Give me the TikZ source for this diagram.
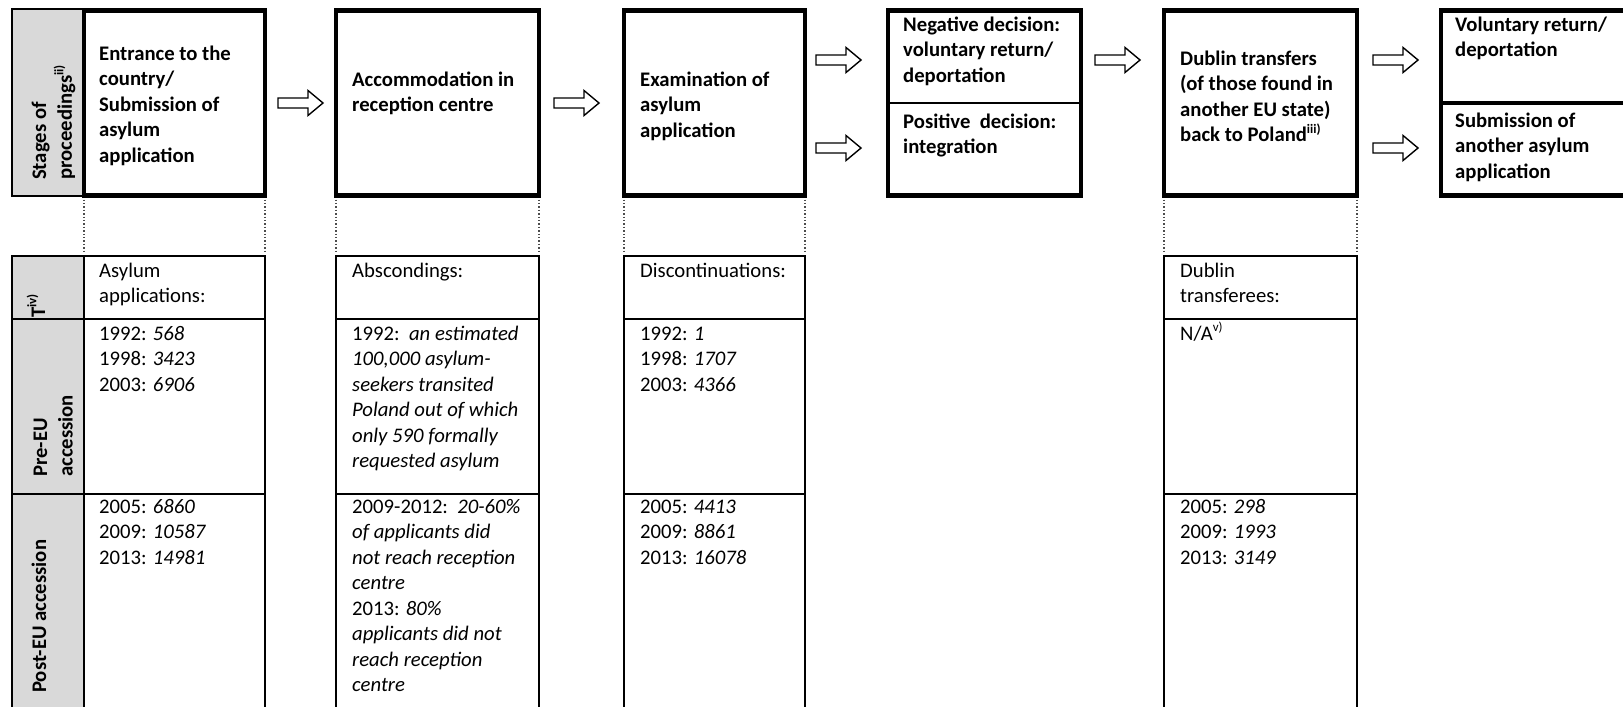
\documentclass[tikz,border=0pt]{standalone}
\usepackage{fontspec}
\setmainfont{Carlito}
\usetikzlibrary{calc}
\newcommand\supx[1]{\raisebox{0.42em}{\fontsize{13}{13}\selectfont #1}}
\newcommand\tl[1]{\begin{tabular}[t]{@{}l@{}}#1\end{tabular}}
\begin{document}
\begin{tikzpicture}[x=1pt,y=-1pt,
  box/.style={draw, line width=4.5pt, outer sep=0pt, inner sep=0pt, anchor=north west, minimum height=185pt},
  hdr/.style={font=\fontsize{20.7}{25.5}\selectfont\bfseries, anchor=base west, inner sep=0pt},
  cell/.style={font=\fontsize{20.7}{25.5}\selectfont, anchor=base west, inner sep=0pt},
  side/.style={hdr, rotate=90},
  tline/.style={line width=2pt},
  dotline/.style={black!70, line width=1.4pt, dotted},
  greycell/.style={fill=black!15},
  barrow/.pic={\draw[line width=1.4pt, fill=white, line join=miter] (0,-5) -- (30,-5) -- (30,-12.5) -- (45,0) -- (30,12.5) -- (30,5) -- (0,5) -- cycle;}
]
\useasboundingbox (0,0) rectangle (1623,707);
\begin{scope}
\clip (0,0) rectangle (1623,707);

% ---------- upper row: stages ----------
\draw[greycell, line width=1.2pt] (12,9) rectangle (84,196);
\node[box, minimum width=181pt] (b1) at (84,10.5) {};
\node[box, minimum width=203pt] (b2) at (336,10.5) {};
\node[box, minimum width=181pt] (b3) at (624,10.5) {};
\node[box, minimum width=193pt] (b4) at (888,10.5) {};
\node[box, minimum width=193pt] (b5) at (1164,10.5) {};
\node[box, minimum width=260pt] (b6) at (1441,10.5) {};
\draw[line width=2pt] (b4.west) -- (b4.east);
\draw[line width=4.5pt] (b6.west) -- (b6.east);

\node[side] (sp) at (46,180) {\tl{Stages of\\proceedings\supx{ii)}}};

\node[hdr] (t1) at (99,60) {\tl{Entrance to the\\country/\\Submission of\\asylum\\application}};
\node[hdr] (t2) at (352,86) {\tl{Accommodation in\\reception centre}};
\node[hdr] (t3) at (640,86) {\tl{Examination of\\asylum\\application}};
\node[hdr] (t4a) at (903,31) {\tl{Negative decision:\\voluntary return/\\deportation}};
\node[hdr] (t4b) at (903,128) {\tl{Positive\ \ decision:\\integration}};
\node[hdr] (t5) at (1180,65) {\tl{Dublin transfers\\(of those found in\\another EU state)\\back to Poland\supx{iii)}}};
\node[hdr] (t6a) at (1455,31) {\tl{Voluntary return/\\deportation}};
\node[hdr] (t6b) at (1455,127) {\tl{Submission of\\another asylum\\application}};

% ---------- block arrows ----------
\pic at ($(b1.east)+(13,0)$) {barrow};
\pic at ($(b2.east)+(15,0)$) {barrow};
\pic at ($(b3.east)+(11,-43)$) {barrow};
\pic at ($(b3.east)+(11,45)$) {barrow};
\pic at ($(b4.east)+(14,-43)$) {barrow};
\pic at ($(b5.east)+(16,-43)$) {barrow};
\pic at ($(b5.east)+(16,45)$) {barrow};

% ---------- dotted guides ----------
\foreach \b in {b1,b2,b3,b5}{
  \draw[dotline] ($(\b.south west)+(0,4)$) -- ++(0,53);
  \draw[dotline] ($(\b.south east)+(0,4)$) -- ++(0,53);
}

% ---------- lower table ----------
\fill[greycell] (12,256) rectangle (84,720);
\draw[tline] (12,720) -- (12,256) -- (265,256) -- (265,720);
\draw[tline] (84,256) -- (84,720);
\draw[tline] (12,319) -- (265,319);
\draw[tline] (12,494) -- (265,494);
\foreach \l/\r in {336/539,624/805,1164/1357}{
  \draw[tline] (\l,720) -- (\l,256) -- (\r,256) -- (\r,720);
  \draw[tline] (\l,319) -- (\r,319);
  \draw[tline] (\l,494) -- (\r,494);
}

\node[side] (sT) at (45,318) {T\supx{iv)}};
\node[side] (sPre) at (47,477) {\tl{Pre-EU\\accession}};
\node[side] (sPost) at (46,693) {Post-EU accession};

\node[cell] (c1h) at (99,277) {\tl{Asylum\\applications:}};
\node[cell] (c1a) at (99,340) {\tl{1992: \textit{568}\\1998: \textit{3423}\\2003: \textit{6906}}};
\node[cell] (c1b) at (99,513) {\tl{2005: \textit{6860}\\2009: \textit{10587}\\2013: \textit{14981}}};

\node[cell] (c2h) at (352,277) {Abscondings:};
\node[cell] (c2a) at (352,340) {\tl{1992:\ \ \textit{an estimated}\\\textit{100,000 asylum-}\\\textit{seekers transited}\\\textit{Poland out of which}\\\textit{only 590 formally}\\\textit{requested asylum}}};
\node[cell] (c2b) at (352,513) {\tl{2009-2012:\ \ \textit{20-60\%}\\\textit{of applicants did}\\\textit{not reach reception}\\\textit{centre}\\2013: \textit{80\%}\\\textit{applicants did not}\\\textit{reach reception}\\\textit{centre}}};

\node[cell] (c3h) at (640,277) {Discontinuations:};
\node[cell] (c3a) at (640,340) {\tl{1992: \textit{1}\\1998: \textit{1707}\\2003: \textit{4366}}};
\node[cell] (c3b) at (640,513) {\tl{2005: \textit{4413}\\2009: \textit{8861}\\2013: \textit{16078}}};

\node[cell] (c5h) at (1180,277) {\tl{Dublin\\transferees:}};
\node[cell] (c5a) at (1180,340) {N/A\supx{v)}};
\node[cell] (c5b) at (1180,513) {\tl{2005: \textit{298}\\2009: \textit{1993}\\2013: \textit{3149}}};
\end{scope}
\end{tikzpicture}
\end{document}
